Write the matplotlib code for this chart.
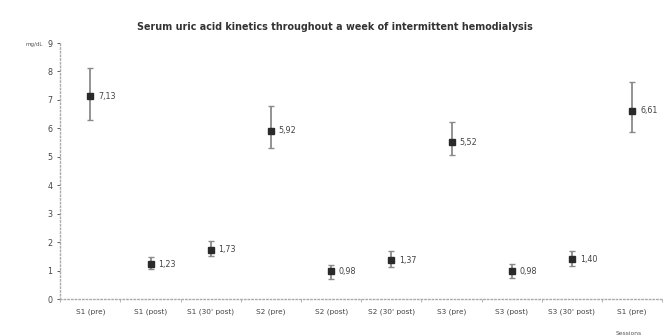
import numpy as np
import matplotlib.pyplot as plt

# sessions and serum uric acid values (mg/dL)
sessions = ["S1 (pre)", "S1 (post)", "S1 (30' post)", "S2 (pre)", "S2 (post)",
            "S2 (30' post)", "S3 (pre)", "S3 (post)", "S3 (30' post)", "S1 (pre)"]
means = [7.13, 1.23, 1.73, 5.92, 0.98, 1.37, 5.52, 0.98, 1.40, 6.61]
upper = [8.12, 1.47, 2.03, 6.78, 1.19, 1.68, 6.22, 1.22, 1.70, 7.63]
lower = [6.31, 1.04, 1.50, 5.30, 0.72, 1.12, 5.06, 0.75, 1.15, 5.88]
labels = ["7,13", "1,23", "1,73", "5,92", "0,98", "1,37", "5,52", "0,98", "1,40", "6,61"]

x = np.arange(len(sessions))
m = np.array(means)
err = [m - np.array(lower), np.array(upper) - m]

fig = plt.figure(figsize=(6.69, 3.36), dpi=100)
ax = fig.add_axes([0.09, 0.11, 0.9, 0.762])

ax.errorbar(x, m, yerr=err, fmt='s', color='#2a2a2a', ms=5,
            ecolor='#8a8a8a', elinewidth=1.3, capsize=2, capthick=1)
for xi, yi, t in zip(x, m, labels):
    ax.text(xi + 0.13, yi, t, fontsize=5.8, color='#444444', va='center', ha='left')

ax.set_xlim(-0.5, len(sessions) - 0.5)
ax.set_ylim(0, 9)
ax.set_yticks(range(10))
ax.set_xticks(x)
ax.set_xticklabels(sessions, fontsize=5.3, color='#444444')
ax.tick_params(axis='y', labelsize=5.8, colors='#444444', length=2, width=0.6)
ax.tick_params(axis='x', length=0, pad=7)
ax.set_xticks(np.arange(-0.5, len(sessions), 1), minor=True)
ax.tick_params(axis='x', which='minor', length=2, width=0.6, color='#aaaaaa')

for s in ['top', 'right']:
    ax.spines[s].set_visible(False)
for s in ['left', 'bottom']:
    ax.spines[s].set_color('#aaaaaa')
    ax.spines[s].set_linestyle(':')
    ax.spines[s].set_linewidth(1)

fig.text(0.5, 0.91, "Serum uric acid kinetics throughout a week of intermittent hemodialysis",
         ha='center', fontsize=6.9, fontweight='bold', color='#333333')
fig.text(0.038, 0.862, "mg/dL", fontsize=4, color='#555555')
fig.text(0.94, 0.003, "Sessions", fontsize=4.3, color='#555555', ha='center')

fig.savefig("out.png", dpi=100)
